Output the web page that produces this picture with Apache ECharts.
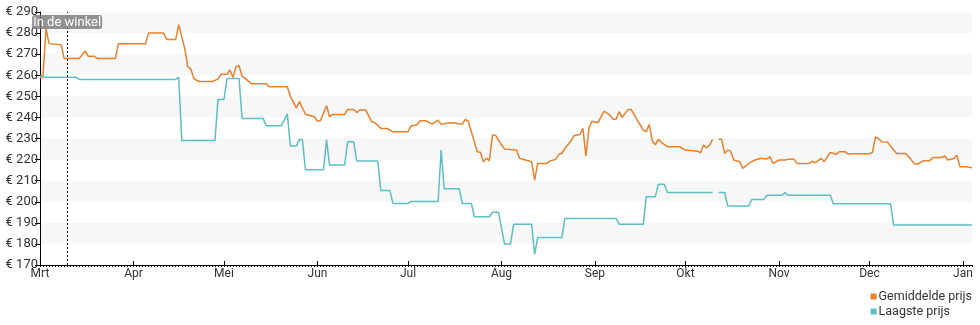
<!DOCTYPE html>
<html>
<head>
<meta charset="utf-8">
<script src="https://cdn.jsdelivr.net/npm/echarts@6/dist/echarts.min.js"></script>
<style>
  html, body { margin: 0; padding: 0; background: #fff; }
  #chart { width: 980px; height: 325px; }
</style>
</head>
<body>
<div id="chart"></div>
<script>
// Price history, days counted from 1 March; null marks a day without data.
const startYear = 2023;
const monthLabels = ['Mrt', 'Apr', 'Mei', 'Jun', 'Jul', 'Aug', 'Sep', 'Okt', 'Nov', 'Dec', 'Jan'];
const yTicks = [170, 180, 190, 200, 210, 220, 230, 240, 250, 260, 270, 280, 290];
const storeDay = 9;      // "In de winkel" marker
const lastDay = 309;

const avgDays = [0, 1, 2, 3, 7, 8, 13, 15, 16, 18, 19, 25, 26, 35, 36, 41, 42, 45, 46, 48, 49, 50, 51, 52, 53, 57, 59, 60,
  62, 63, 64, 65, 66, 67, 68, 70, 75, 76, 82, 83, 85, 86, 88, 91, 92, 93, 95, 96, 97, 101,
  102, 104, 105, 106, 108, 110, 111, 113, 115, 117, 122, 123, 125, 126, 128, 130, 132, 133, 135, 137, 140, 141, 142,
  144, 145, 146, 147, 148, 149, 150, 151, 153, 154, 158, 159, 161, 163, 164, 165, 168, 169, 171, 172, 173, 174, 176,
  177, 179, 180, 181, 182, 183, 185, 187, 189, 190, 191, 192, 193, 195, 196, 198, 199, 200, 201, 202, 203, 204, 205,
  206, 208, 212, 214, 218, 219, 220, 221, 222, 223, 224, 225, 226, 227, 228, 229, 230, 232, 233, 235, 237, 239, 241,
  242, 243, 245, 247, 248, 250, 251, 255, 256, 257, 259, 260, 262, 264, 265, 267, 268, 270, 275, 276, 277, 278, 279,
  281, 284, 287, 288, 290, 291, 293, 295, 296, 299, 300, 301, 303, 304, 305, 307, 309];
const avgPrices = [259.5, 260, 282, 275, 274.5, 268, 268, 271.5, 269, 269, 268, 268, 275, 275, 280, 280, 277, 277, 284, 272.5, 264, 263, 258.5, 257.5, 257, 257, 258.2, 260.5,
  260.5, 262.5, 259, 264, 264.5, 259.5, 258.5, 256, 256, 254.5, 254.5, 250, 244.5, 247.5, 241.5, 240.3, 238.2, 238.5, 245.5, 240.3, 241.4, 241.4,
  243.8, 243.8, 242.3, 243.5, 243.5, 237.9, 237.5, 234.8, 234.8, 233.2, 233.2, 235.9, 236.5, 238.4, 238.4, 236.8, 238.7, 236.7, 237.3, 237.5, 236.8, 239, 238.2,
  228.4, 223.7, 223.5, 219, 220.6, 219.5, 231.6, 231.6, 226.9, 225, 224.5, 220.6, 219.8, 219, 210.3, 218.2, 218.2, 219.3, 220.1, 222.5, 223, 225.3, 228.8,
  231.3, 231.9, 234.8, 221.7, 234.8, 238.2, 237.5, 243, 241.1, 239.1, 239.1, 242.7, 240, 243.8, 243.8, 238.7, 236.4, 234, 233.2, 236.7, 228.8, 227, 229.6,
  228.2, 226.1, 226.1, 224.5, 224, 223.2, 226.9, 225.5, 226.9, 229.6, null, 229.6, 229.6, 222.9, 224.5, 224, 219.8, 219, 215.8, 218.2, 219.8, 220.6, 220.3,
  221.3, 218.2, 219.8, 219.8, 220.1, 220.1, 218.2, 218.2, 219.2, 218.5, 220.6, 219, 223.4, 222.5, 223.7, 223.7, 222.6, 222.8, 222.8, 223.5, 230.8, 230, 228.4,
  228.2, 222.9, 222.9, 221.3, 217.9, 217.9, 219.5, 219.5, 221, 221, 221.7, 219.8, 220.5, 222.1, 216.6, 216.6, 216.1];

const lowDays = [0, 12, 13, 45, 46, 47, 58, 59, 61, 62, 66, 67, 74, 75, 80, 82, 83, 85, 86, 87, 88, 94, 95, 96, 101, 102, 104,
  105, 112, 113, 116, 117, 122, 123, 132, 133, 134, 139, 140, 143, 144, 149, 150, 152, 154, 156, 157, 163, 164, 165, 173, 174,
  191, 192, 200, 201, 204, 205, 207, 208, 223, 224, 225, 227, 228, 235, 236, 240, 241, 246, 247, 248, 262, 263, 282, 283, 309];
const lowPrices = [259, 259, 258, 258, 259, 229, 229, 248.5, 248.5, 258.5, 258.5, 239.5, 239.5, 236, 236, 241.7, 226.5, 226.5, 229.5, 229.5, 215.2, 215.2, 229.5, 217.4, 217.4, 228.4, 228.4,
  219.3, 219.3, 205.3, 205.3, 199.2, 199.2, 200.1, 200.1, 224.5, 206.2, 206.2, 199.2, 199.2, 192.9, 192.9, 195, 195, 180, 180, 189.3, 189.3, 175, 183, 183, 192.1,
  192.1, 189.3, 189.3, 202.4, 202.4, 208.3, 208.3, 204.4, 204.4, null, 204.4, 204.4, 198, 198, 201.1, 201.1, 203.1, 203.1, 204.3, 203.1, 203.1, 199, 199, 189, 189];

const toSeries = (days, prices) => days.map((d, i) => [d, prices[i]]);

// day offsets of the first of each month
const dayMs = 86400000;
const origin = new Date(startYear, 2, 1).getTime();
const monthStarts = monthLabels.map((_, i) => Math.round((new Date(startYear, 2 + i, 1).getTime() - origin) / dayMs));
const allDays = [];
for (let d = 0; d <= lastDay; d++) allDays.push(d);

const textFont = 'Roboto, "Noto Sans", sans-serif';

const chart = echarts.init(document.getElementById('chart'), null, { renderer: 'canvas' });
chart.setOption({
  animation: false,
  grid: { left: 40, right: 8, top: 12, bottom: 60, containLabel: false },
  legend: {
    orient: 'vertical',
    right: 8,
    bottom: 7,
    padding: 0,
    itemWidth: 6,
    itemHeight: 6,
    itemGap: 2,
    icon: 'rect',
    align: 'left',
    textStyle: { fontFamily: textFont, fontSize: 12.5, color: '#333', padding: [0, 0, 0, -3] },
    data: ['Gemiddelde prijs', 'Laagste prijs']
  },
  xAxis: [{
    type: 'value',
    min: 0,
    max: lastDay,
    axisLine: { show: true, onZero: false, lineStyle: { color: '#000', width: 1 } },
    axisTick: { show: true, customValues: monthStarts, length: 4, inside: true, lineStyle: { color: '#000' } },
    axisLabel: {
      show: true,
      customValues: monthStarts,
      formatter: v => monthLabels[monthStarts.indexOf(v)],
      fontFamily: textFont, fontSize: 12, color: '#333', margin: 3
    },
    splitLine: { show: false }
  }, {
    type: 'value',
    position: 'bottom',
    min: 0,
    max: lastDay,
    axisLine: { show: false, onZero: false },
    axisTick: { show: true, customValues: allDays, length: 2, lineStyle: { color: '#000' } },
    axisLabel: { show: false },
    splitLine: { show: false }
  }],
  yAxis: {
    type: 'value',
    min: yTicks[0],
    max: yTicks[yTicks.length - 1],
    interval: 10,
    axisLine: { show: true, lineStyle: { color: '#000', width: 1 } },
    axisTick: { show: true, length: 5, lineStyle: { color: '#000' } },
    axisLabel: { formatter: v => '€ ' + v, fontFamily: textFont, fontSize: 13, color: '#333', margin: 2 },
    splitLine: { show: false },
    splitArea: { show: true, areaStyle: { color: ['rgba(255,255,255,0)', '#f7f7f7'] } }
  },
  series: [{
    name: 'Gemiddelde prijs',
    type: 'line',
    data: toSeries(avgDays, avgPrices),
    showSymbol: false,
    symbol: 'none',
    connectNulls: false,
    color: '#e8802c',
    lineStyle: { width: 1.5, color: '#e8802c' },
    z: 3,
    markLine: {
      silent: true,
      symbol: 'none',
      lineStyle: { color: '#111', type: [2, 2], width: 1 },
      label: {
        show: true,
        position: 'end',
        distance: -17,
        formatter: 'In de winkel',
        color: '#fff',
        fontFamily: textFont,
        fontSize: 13,
        backgroundColor: 'rgba(128,128,128,0.85)',
        borderRadius: 3,
        padding: [1, 1, 0, 1]
      },
      data: [{ xAxis: storeDay }]
    }
  }, {
    name: 'Laagste prijs',
    type: 'line',
    data: toSeries(lowDays, lowPrices),
    showSymbol: false,
    symbol: 'none',
    connectNulls: false,
    color: '#5dbec6',
    lineStyle: { width: 1.5, color: '#5dbec6' },
    z: 2
  }]
});
</script>
</body>
</html>
